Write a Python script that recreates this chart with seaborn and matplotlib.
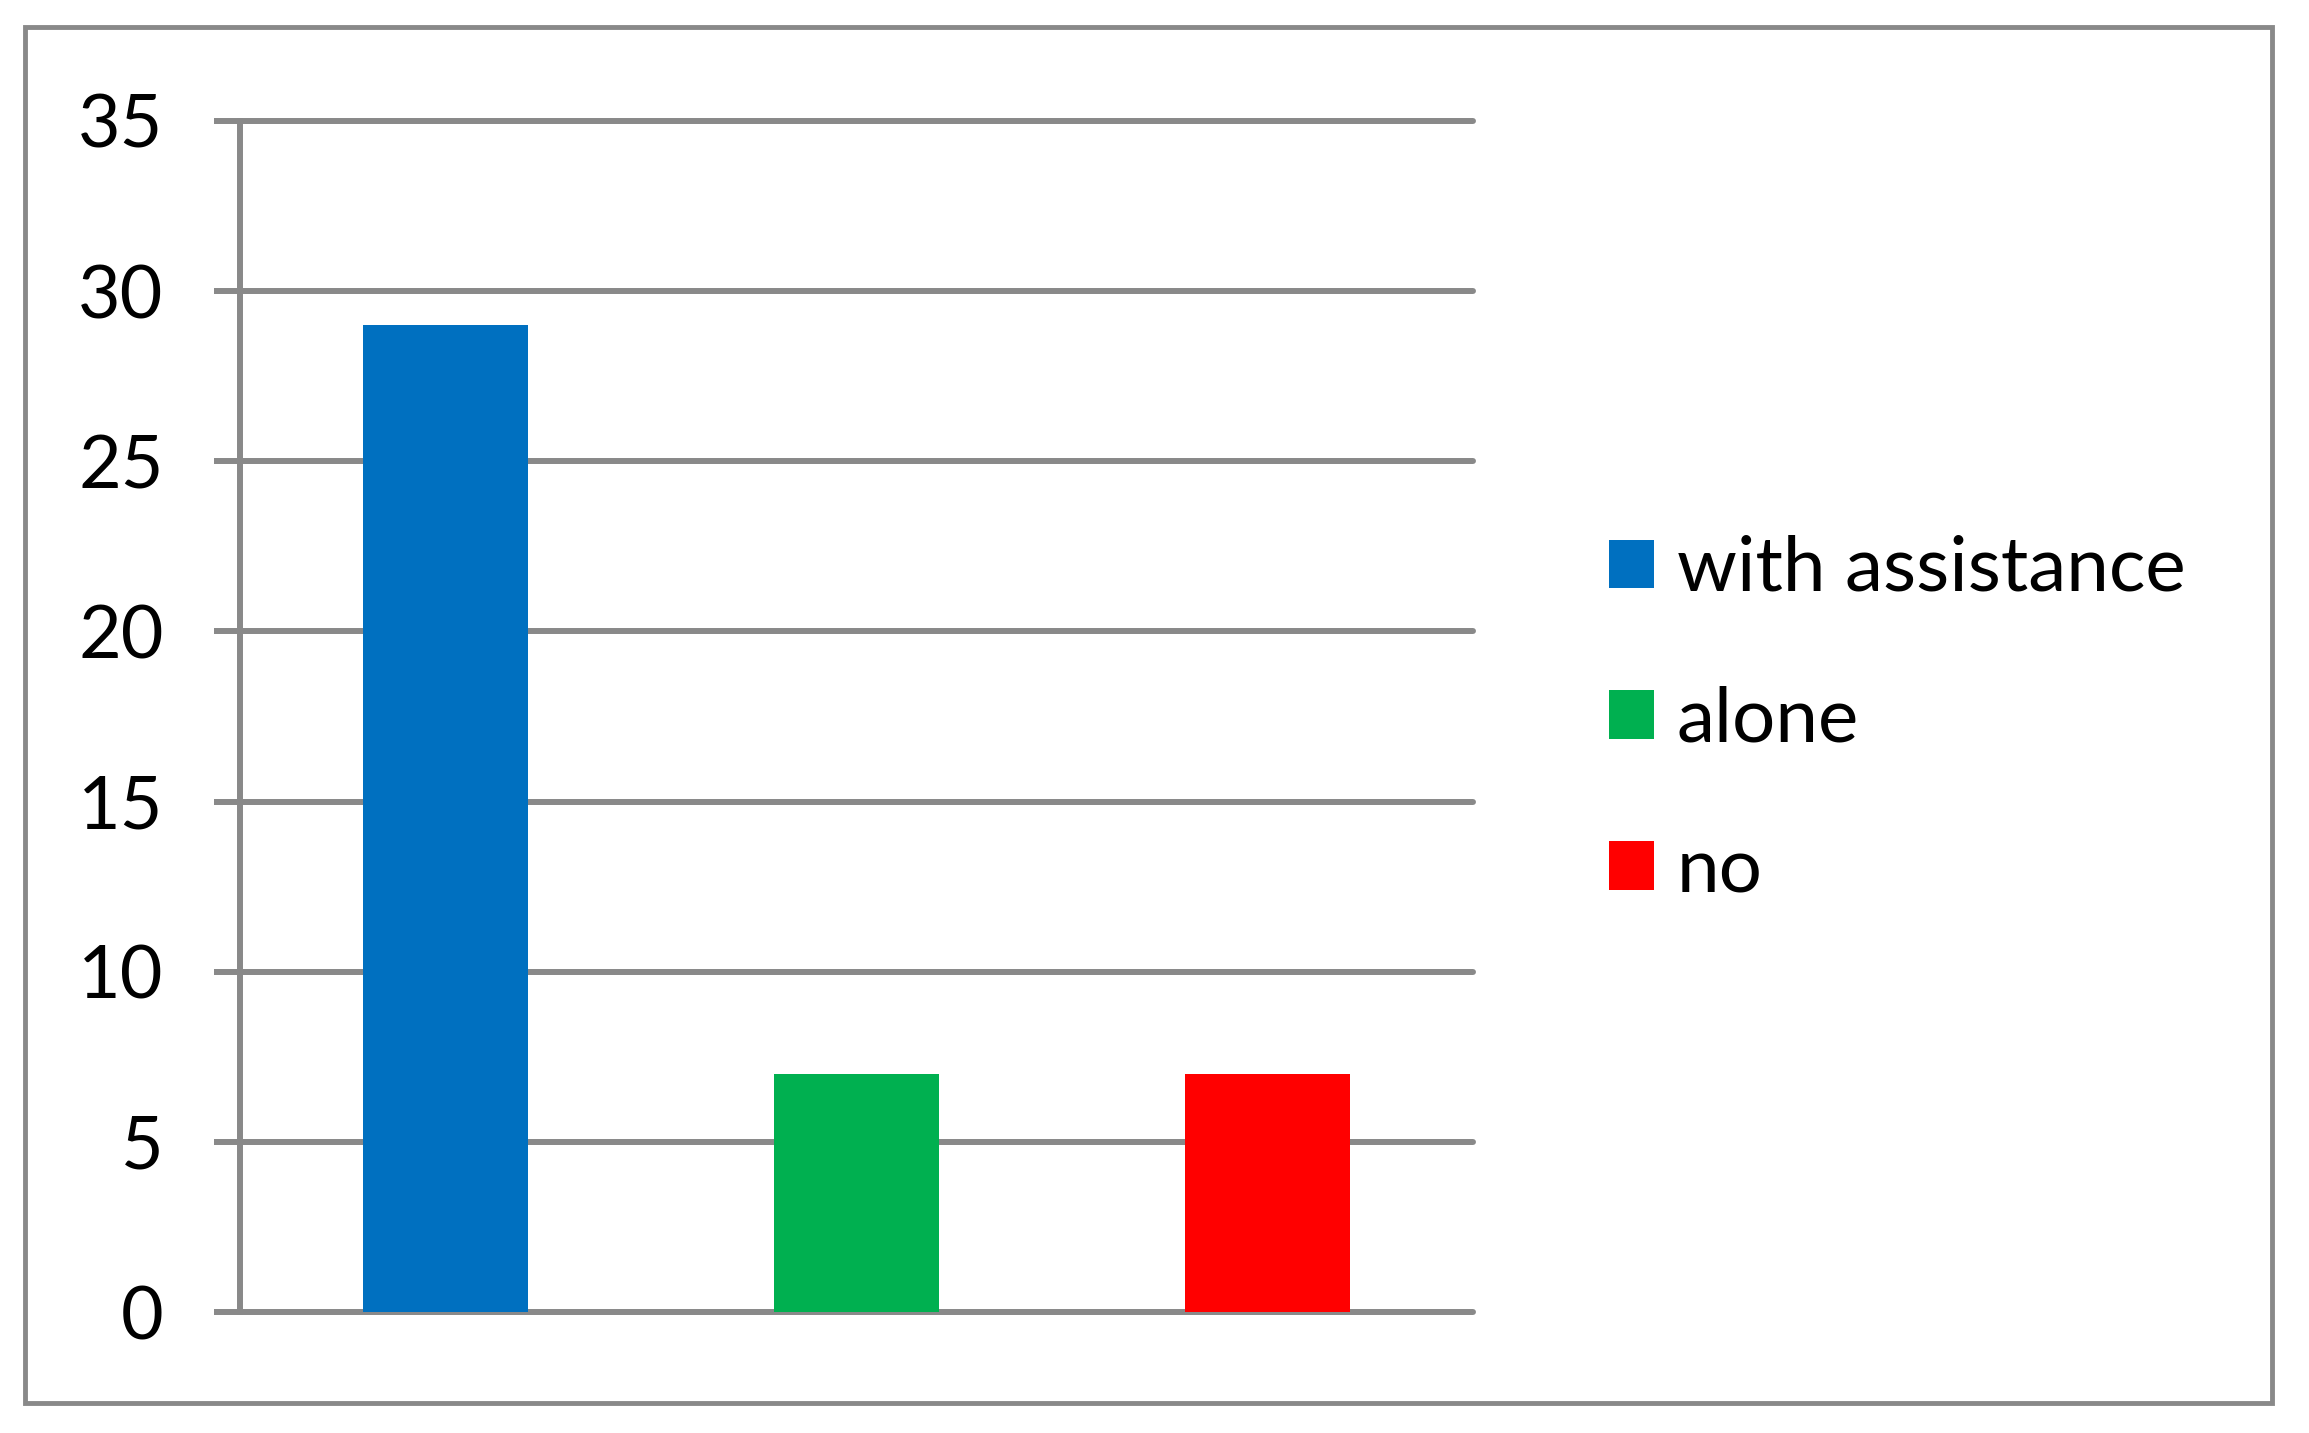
import matplotlib
matplotlib.use("Agg")
import matplotlib.pyplot as plt
from matplotlib.patches import Patch, Rectangle
import seaborn as sns
import pandas as pd

# values
categories = ["with assistance", "alone", "no"]
counts = [29, 7, 7]
bar_colors = ["#0070C0", "#00B050", "#FF0000"]
y_ticks = [0, 5, 10, 15, 20, 25, 30, 35]

GREY = "#898989"

sns.set_theme(style="white")
plt.rcParams["font.family"] = ["Lato", "DejaVu Sans"]
plt.rcParams["text.color"] = "black"

df = pd.DataFrame({"category": categories, "count": counts})

fig = plt.figure(figsize=(23.09, 14.33), dpi=100)
ax = fig.add_axes([0.1039, 0.0844, 0.5341, 0.8312])

sns.barplot(data=df, x="category", y="count", hue="category",
            palette=bar_colors, width=0.4, saturation=1, legend=False,
            linewidth=0, ax=ax)

ax.set_xlim(-0.5, 2.5)
ax.set_ylim(0, 35)
ax.set_yticks(y_ticks)
ax.set_yticklabels([str(t) for t in y_ticks])
ax.set_xticks([])
ax.set_xlabel("")
ax.set_ylabel("")

ax.yaxis.grid(True, color=GREY, linewidth=4.3)
ax.set_axisbelow(True)
# keep the 0 and 35 lines at full thickness
for gl in ax.get_ygridlines():
    gl.set_clip_on(False)
for side in ("top", "right", "bottom"):
    ax.spines[side].set_visible(False)
ax.spines["left"].set_color(GREY)
ax.spines["left"].set_linewidth(4.3)
ax.tick_params(axis="y", direction="out", length=19, width=4.3, color=GREY,
               pad=36, labelsize=53, labelcolor="black", left=True)

handles = [Patch(facecolor=c, edgecolor="none") for c in bar_colors]
fig.legend(handles, categories, loc="center left",
           bbox_to_anchor=(0.6805, 0.4975), frameon=False, fontsize=55,
           handlelength=0.58, handleheight=0.6, handletextpad=0.3,
           labelspacing=1.07, borderpad=0, labelcolor="black")

# outer chart border
fig.patches.append(Rectangle((0.0108, 0.0209), 0.9732, 0.9602,
                             transform=fig.transFigure, fill=False,
                             edgecolor=GREY, linewidth=3.5))

fig.savefig("out.png", dpi=100, facecolor="white")
